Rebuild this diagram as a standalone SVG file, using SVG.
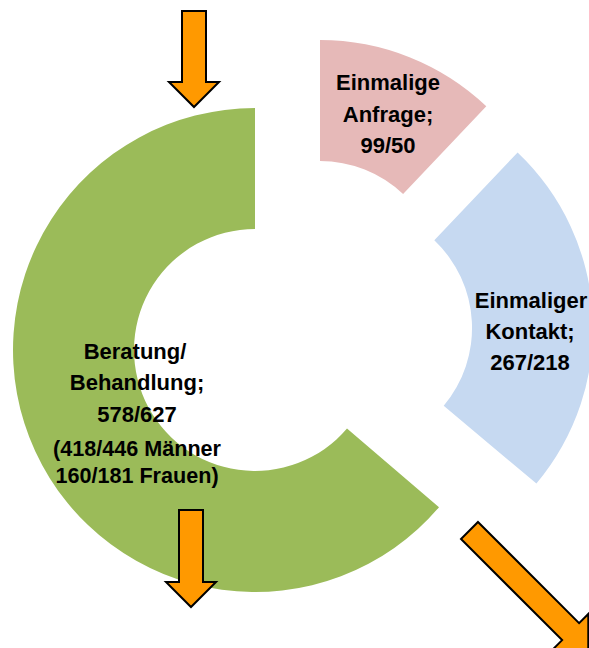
<svg xmlns="http://www.w3.org/2000/svg" width="589" height="648" viewBox="0 0 589 648">
<style>
  .lbl { font-family: "Liberation Sans", Arial, sans-serif; font-weight: bold; font-size: 22px; fill: #000; text-anchor: middle; }
  .sm { font-size: 21.6px; }
  .arrow { fill: #FF9900; stroke: #000; stroke-width: 2; stroke-linejoin: miter; }
</style>
<rect width="589" height="648" fill="#fff"/>
<g id="beratung">
  <path d="M 255 108 A 242 242 0 1 0 439 507.2 L 347 428.6 A 121 121 0 1 1 255 229 Z" fill="#9BBB59"/>
  <text class="lbl" x="135" y="359">Beratung/</text>
  <text class="lbl" x="137" y="390">Behandlung;</text>
  <text class="lbl" x="137" y="422">578/627</text>
  <text class="lbl sm" x="137" y="456">(418/446 Männer</text>
  <text class="lbl sm" x="137" y="483">160/181 Frauen)</text>
</g>
<g id="anfrage">
  <path d="M 320 40 A 242 242 0 0 1 486.3 106.2 L 403.1 194.1 A 121 121 0 0 0 320 161 Z" fill="#E6B9B8"/>
  <text class="lbl" x="388" y="90">Einmalige</text>
  <text class="lbl" x="388" y="122">Anfrage;</text>
  <text class="lbl" x="388" y="153">99/50</text>
</g>
<g id="kontakt">
  <path d="M 517.6 152.5 A 242 242 0 0 1 536.4 483.6 L 443.7 405.8 A 121 121 0 0 0 434.3 240.2 Z" fill="#C6D9F1"/>
  <text class="lbl" x="531" y="308">Einmaliger</text>
  <text class="lbl" x="530" y="339">Kontakt;</text>
  <text class="lbl" x="530" y="370">267/218</text>
</g>
<g id="connectors">
  <polygon class="arrow" points="182,11 206,11 206,82 219,82 194,107 169,82 182,82"/>
  <polygon class="arrow" points="179,510 203,510 203,582 216,582 191,607 166,582 179,582"/>
  <polygon class="arrow" transform="translate(469.5,530.5) rotate(45)" points="0,-12 143,-12 143,-25 168,0 143,25 143,12 0,12"/>
</g>
</svg>
